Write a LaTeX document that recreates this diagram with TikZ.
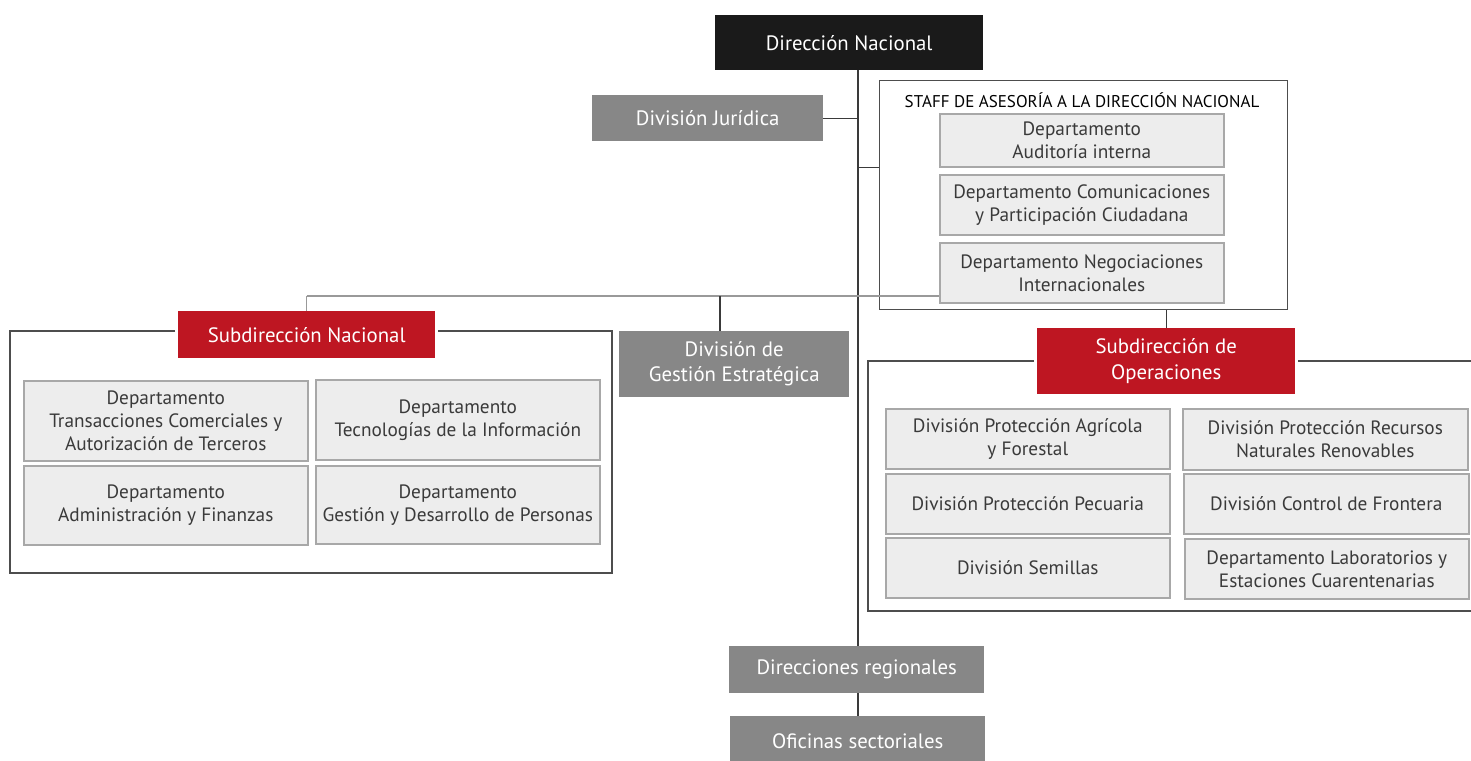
\documentclass[tikz,border=0pt]{standalone}
\usepackage{fontspec}
\setmainfont{PT Sans}
\definecolor{dnblack}{HTML}{1A1A1A}
\definecolor{boxgray}{HTML}{878787}
\definecolor{boxred}{HTML}{BE1622}
\definecolor{lightfill}{HTML}{EDEDED}
\definecolor{lightline}{HTML}{A8A8A8}
\definecolor{framecol}{HTML}{4D4D4D}
\definecolor{trunkcol}{HTML}{3A3A3A}
\definecolor{thincol}{HTML}{999999}
\definecolor{txtdark}{HTML}{3A3A3A}
\begin{document}
\begin{tikzpicture}[x=1pt,y=-1pt,
  base/.style={inner sep=0pt, anchor=north west, align=center},
  blackbox/.style={base, fill=dnblack, text=white, font=\fontsize{20.8}{24}\selectfont},
  graybox/.style={base, fill=boxgray, text=white, font=\fontsize{20.8}{25}\selectfont},
  redbox/.style={base, fill=boxred, text=white, font=\fontsize{20.8}{26}\selectfont},
  lightbox/.style={base, fill=lightfill, draw=lightline, line width=1.6pt, text=txtdark, font=\fontsize{19.3}{23}\selectfont},
  framebox/.style={draw=framecol, line width=1.4pt},
  trunk/.style={draw=trunkcol, line width=1.4pt},
  thinline/.style={draw=thincol, line width=1.4pt}
]
\useasboundingbox (0,0) rectangle (1471,760);
\fill[white] (0,0) rectangle (1471,760);
\begin{scope}
\clip (0,0) rectangle (1471,760);

% top
\node[blackbox, minimum width=268, minimum height=55] (dn) at (715,15) {Dirección Nacional};
\node[graybox, minimum width=231, minimum height=46] (jur) at (592,95) {División Jurídica};

% staff
\node[base, framebox, minimum width=408, minimum height=229] (staff) at (879,80) {};
\node[text=black, font=\fontsize{17}{20}\selectfont, inner sep=0pt] (stafft) at (1082,100) {STAFF DE ASESORÍA A LA DIRECCIÓN NACIONAL};
\node[lightbox, minimum width=284, minimum height=53] (aud) at (939,113) {Departamento\\Auditoría interna};
\node[lightbox, minimum width=284, minimum height=60] (com) at (939,174) {Departamento Comunicaciones\\y Participación Ciudadana};
\node[lightbox, minimum width=284, minimum height=60] (neg) at (939,242) {Departamento Negociaciones\\Internacionales};

% bottom
\node[graybox, minimum width=255, minimum height=47] (dreg) at (729,646) {Direcciones regionales};
\node[graybox, minimum width=255, minimum height=50] (ofi) at (730,716) {Oficinas sectoriales};

% left group
\node[redbox, minimum width=257, minimum height=47] (snac) at (178,311) {Subdirección Nacional};
\coordinate (lf1) at (175,331);
\coordinate (lf2) at (10,331);
\coordinate (lf3) at (10,573);
\coordinate (lf4) at (612,573);
\coordinate (lf5) at (612,331);
\coordinate (lf6) at (438,331);
\draw[framebox] (lf1) -- (lf2) -- (lf3) -- (lf4) -- (lf5) -- (lf6);
\node[lightbox, minimum width=284, minimum height=80] (tc) at (23,380) {Departamento\\Transacciones Comerciales y\\Autorización de Terceros};
\node[lightbox, minimum width=284, minimum height=80] (ti) at (315,379) {Departamento\\Tecnologías de la Información};
\node[lightbox, minimum width=284, minimum height=79] (af) at (23,465) {Departamento\\Administración y Finanzas};
\node[lightbox, minimum width=284, minimum height=78] (gdp) at (315,465) {Departamento\\Gestión y Desarrollo de Personas};

% middle
\node[graybox, minimum width=230, minimum height=66] (ges) at (619,331) {División de\\Gestión Estratégica};

% right group
\node[redbox, minimum width=258, minimum height=66] (subops) at (1037,328) {Subdirección de\\Operaciones};
\coordinate (rf1) at (1034,361);
\coordinate (rf2) at (868,361);
\coordinate (rf3) at (868,611);
\coordinate (rf4) at (1480,611);
\coordinate (rf5) at (1298,361);
\coordinate (rf6) at (1480,361);
\draw[framebox] (rf1) -- (rf2) -- (rf3) -- (rf4);
\draw[framebox] (rf5) -- (rf6);
\node[lightbox, minimum width=284, minimum height=60] (paf) at (885,408) {División Protección Agrícola\\y Forestal};
\node[lightbox, minimum width=285, minimum height=61] (prnr) at (1182,408) {División Protección Recursos\\Naturales Renovables};
\node[lightbox, minimum width=284, minimum height=60] (pp) at (885,473) {División Protección Pecuaria};
\node[lightbox, minimum width=285, minimum height=60] (cf) at (1183,473) {División Control de Frontera};
\node[lightbox, minimum width=284, minimum height=60] (sem) at (885,537) {División Semillas};
\node[lightbox, minimum width=284, minimum height=60] (lab) at (1184,538) {Departamento Laboratorios y\\Estaciones Cuarentenarias};

% connectors
\coordinate (trunkx) at (858,0);
\draw[trunk] (dn.south -| trunkx) -- (dreg.north -| trunkx);
\draw[trunk] (dreg.south -| trunkx) -- (ofi.north -| trunkx);
\draw[trunk] (jur.east) -- (jur.east -| trunkx);
\draw[trunk] (aud.south -| staff.west) -- (aud.south -| trunkx);
\coordinate (hl) at (0,296);
\coordinate (gesx) at (720,0);
\draw[thinline] (snac.north |- hl) -- (neg.west |- hl);
\draw[thinline] (snac.north |- hl) -- (snac.north);
\draw[trunk] (gesx |- hl) -- (gesx |- ges.north);
\draw[trunk] (subops.north |- staff.south) -- (subops.north);
\end{scope}
\end{tikzpicture}
\end{document}
